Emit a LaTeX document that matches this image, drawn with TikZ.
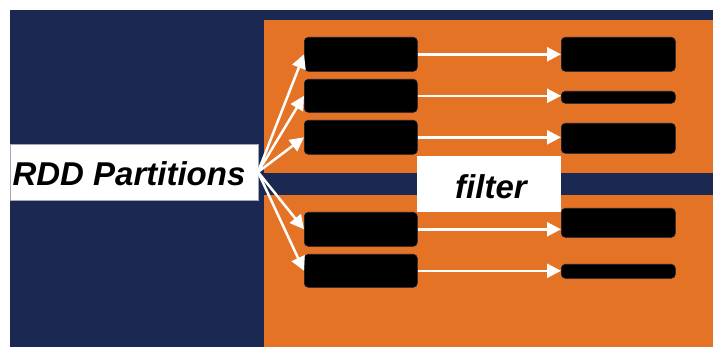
\documentclass[tikz,border=0pt]{standalone}
\usepackage{fontspec}
\setmainfont{Liberation Sans}
\usetikzlibrary{arrows.meta}
\definecolor{navy}{RGB}{27,40,82}
\definecolor{sparkorange}{RGB}{229,115,37}
\begin{document}
\begin{tikzpicture}[x=1pt,y=-1pt,
  part/.style={fill=black, draw=navy!70!black, line width=0.6pt, rounded corners=4pt,
    inner sep=0pt, minimum width=113pt, anchor=north west},
  whitebox/.style={fill=white, draw=navy!40, line width=0.5pt},
  arr/.style={draw=white, line width=2.5pt, -{Triangle[length=14pt,width=14pt]}},
  bigtxt/.style={font=\fontsize{33}{39}\selectfont\bfseries\itshape, inner sep=0pt, anchor=base}]
\useasboundingbox (0,0) rectangle (713,347);
\fill[white] (0,0) rectangle (713,347);
% background
\fill[navy] (10,10) rectangle (713,347);
\fill[sparkorange] (264,20) rectangle (713,173);
\fill[sparkorange] (264,195) rectangle (713,347);
% label boxes
\draw[whitebox] (10,144) rectangle (258,200);
\node[bigtxt] (rdd) at (129,186) {RDD Partitions};
\draw[whitebox, draw=none] (417,156) rectangle (561,212);
\node[bigtxt] (flt) at (491,199) {filter};
% left partitions
\node[part, minimum height=34pt] (l1) at (304,37) {};
\node[part, minimum height=33pt] (l2) at (304,79) {};
\node[part, minimum height=34pt] (l3) at (304,120) {};
\node[part, minimum height=34pt] (l4) at (304,212) {};
\node[part, minimum height=33pt] (l5) at (304,254) {};
% right partitions
\node[part, minimum width=114pt, minimum height=34pt] (r1) at (561,37) {};
\node[part, minimum width=114pt, minimum height=12pt] (r2) at (561,91) {};
\node[part, minimum width=114pt, minimum height=30pt] (r3) at (561,123) {};
\node[part, minimum width=114pt, minimum height=29pt] (r4) at (561,208) {};
\node[part, minimum width=114pt, minimum height=14pt] (r5) at (561,264) {};
% fan-out
\coordinate (o) at (258,172);
\foreach \i in {1,...,5} {
  \draw[arr] (o) -- (l\i.west);
  \draw[arr] (l\i.east) -- (l\i.east -| r\i.west);
}
\end{tikzpicture}
\end{document}
